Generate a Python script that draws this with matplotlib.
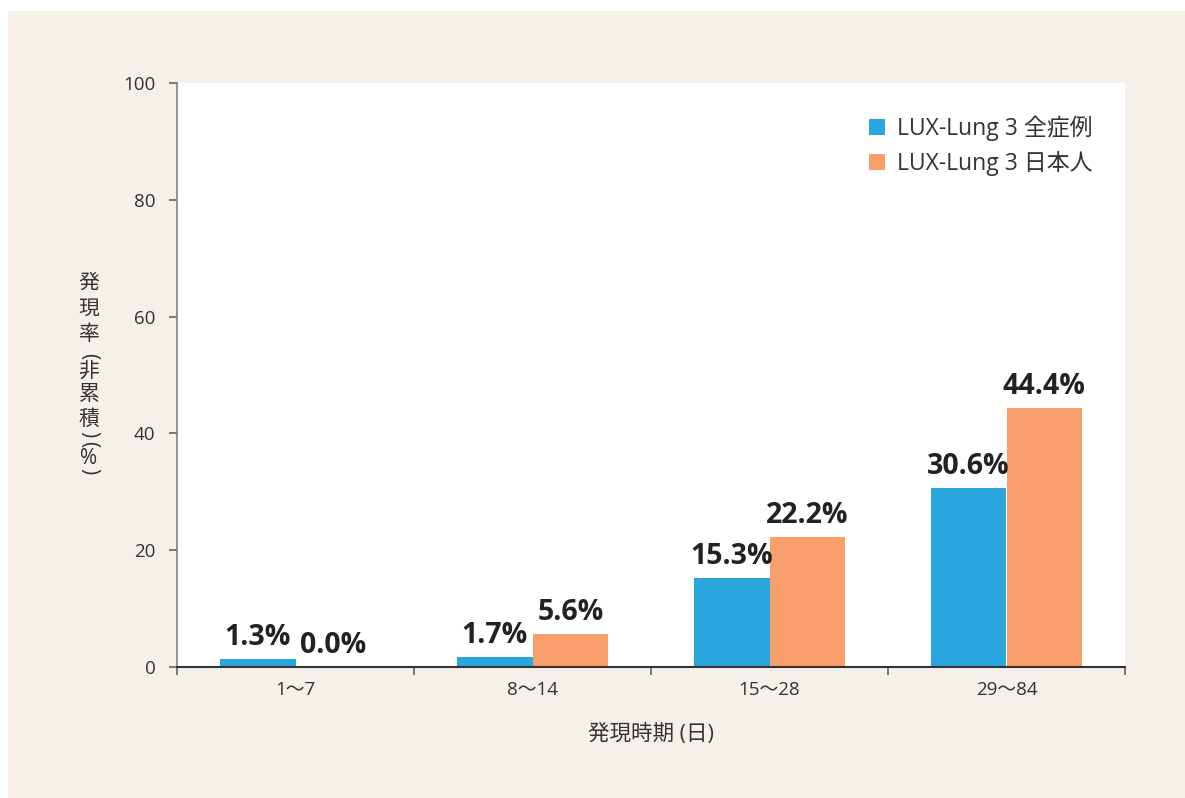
import numpy as np
import matplotlib
matplotlib.use('Agg')
from matplotlib import pyplot as plt
from matplotlib.patches import Rectangle

plt.rcParams['font.family'] = ['Open Sans', 'Noto Sans CJK JP', 'DejaVu Sans']
plt.rcParams['axes.unicode_minus'] = False

# データ
categories = ['1〜7', '8〜14', '15〜28', '29〜84']
all_cases = [1.3, 1.7, 15.3, 30.6]      # LUX-Lung 3 全症例
japanese = [0.0, 5.6, 22.2, 44.4]       # LUX-Lung 3 日本人
series_names = ['LUX-Lung 3 全症例', 'LUX-Lung 3 日本人']
y_ticks = [0, 20, 40, 60, 80, 100]

blue = '#29a6de'
orange = '#f89e6b'
beige = '#f5f0ea'
text_c = '#333333'

W, H = 1185, 798
fig = plt.figure(figsize=(W / 100, H / 100), dpi=100, facecolor='white')
# 背景パネル
fig.patches.append(Rectangle((8 / W, 0), (W - 8) / W, (H - 11) / H,
                             transform=fig.transFigure, facecolor=beige,
                             edgecolor='none', zorder=-10))

ax = fig.add_axes([177 / W, 1 - 667 / H, (1125 - 177) / W, (667 - 83) / H])
ax.set_facecolor('white')

x = np.arange(len(categories))
bw = 0.32
b1 = ax.bar(x - bw / 2, all_cases, bw, color=blue, label=series_names[0], zorder=2)
b2 = ax.bar(x + bw / 2, japanese, bw, color=orange, label=series_names[1], zorder=2)

for bars, vals in [(b1, all_cases), (b2, japanese)]:
    for r, v in zip(bars, vals):
        ax.annotate('%.1f%%' % v, (r.get_x() + r.get_width() / 2, v),
                    xytext=(0, 5), textcoords='offset points',
                    ha='center', va='bottom', fontsize=20.5, fontweight='bold',
                    color='#222222')

ax.set_xlim(-0.5, len(categories) - 0.5)
ax.set_ylim(0, 100)
ax.set_yticks(y_ticks)
ax.set_xticks(np.arange(len(categories) + 1) - 0.5)
ax.set_xticklabels([])
ax.set_xticks(x, minor=True)
ax.set_xticklabels(categories, minor=True)

ax.tick_params(axis='x', which='major', length=6, width=1.1, color='#555555', direction='out')
ax.tick_params(axis='x', which='minor', length=0, pad=10, labelsize=13.5, labelcolor=text_c)
ax.tick_params(axis='y', length=5.5, width=1.1, color='#555555', pad=10,
               labelsize=13.5, labelcolor=text_c)

for s in ['top', 'right']:
    ax.spines[s].set_visible(False)
ax.spines['left'].set_color('#777777')
ax.spines['left'].set_linewidth(1.1)
ax.spines['bottom'].set_color('#333333')
ax.spines['bottom'].set_linewidth(1.5)

ax.set_xlabel('発現時期 (日)', fontsize=15.5, color=text_c, labelpad=18)

# 縦書きの軸ラベル（1文字ずつ配置、括弧は回転）
ylab = ['発', '現', '率', '(', '非', '累', '積', ')', '(', '%', ')']
ylab_y = [283, 309, 335, 356, 371, 395, 419, 434, 444, 458, 471]
for ch, yy in zip(ylab, ylab_y):
    rot = 270 if ch in '()' else 0
    fig.text(89 / W, 1 - yy / H, ch, ha='center', va='center', rotation=rot,
             rotation_mode='anchor', fontsize=15, color=text_c)

leg = ax.legend(loc='upper right', frameon=False, fontsize=16.5,
                handlelength=0.7, handleheight=0.7, handletextpad=0.55,
                labelspacing=0.45, borderaxespad=1.0)
for t in leg.get_texts():
    t.set_color(text_c)

fig.savefig('out.png', dpi=100, facecolor='white')
